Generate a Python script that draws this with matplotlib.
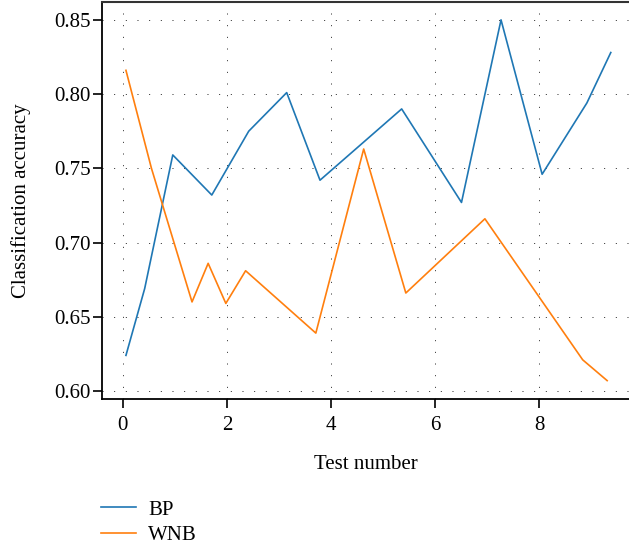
"""
Classification accuracy of BP and WNB over the test runs.
"""
import matplotlib.pyplot as plt
import numpy as np

# Values.
bp_x = [0.06, 0.42, 0.96, 1.71, 2.42, 3.15, 3.79, 5.36, 6.51, 7.27, 8.06, 8.92, 9.38]
bp_acc = [0.624, 0.669, 0.759, 0.732, 0.775, 0.801, 0.742, 0.790, 0.727, 0.850, 0.746, 0.794, 0.828]

wnb_x = [0.06, 0.55, 1.33, 1.64, 1.98, 2.36, 3.71, 4.63, 5.44, 6.96, 8.84, 9.31]
wnb_acc = [0.816, 0.750, 0.660, 0.686, 0.659, 0.681, 0.639, 0.763, 0.666, 0.716, 0.621, 0.607]

x_ticks = [0, 2, 4, 6, 8]
y_ticks = [0.60, 0.65, 0.70, 0.75, 0.80, 0.85]

plt.rcParams["font.family"] = ["Liberation Serif", "DejaVu Serif"]
plt.rcParams["font.size"] = 15

fig = plt.figure(figsize=(6.29, 5.5), dpi=100)
ax = fig.add_axes([0.1622, 0.2745, 0.8378, 0.7218])

ax.plot(bp_x, bp_acc, color="tab:blue", lw=1.2, label="BP")
ax.plot(wnb_x, wnb_acc, color="tab:orange", lw=1.2, label="WNB")

ax.set_xlim(-0.40, 9.73)
ax.set_ylim(0.5946, 0.862)
ax.set_xticks(x_ticks)
ax.set_yticks(y_ticks)
ax.yaxis.set_major_formatter(plt.FormatStrFormatter("%.2f"))

# Sparse dotted grid.
ax.grid(True, color="#222222", lw=0.7, linestyle=(0, (1, 11)))

ax.tick_params(direction="out", length=6.5, width=1.2, colors="black", labelsize=15)
ax.tick_params(axis="y", pad=1.5)
ax.tick_params(axis="x", pad=6)
ax.spines["right"].set_visible(False)
ax.spines["left"].set_linewidth(1.3)
ax.spines["bottom"].set_linewidth(1.3)
ax.spines["top"].set_linewidth(1.5)
ax.spines["top"].set_color("#333333")

ax.set_xlabel("Test number", fontsize=15, labelpad=14)
ax.set_ylabel("Classification accuracy", fontsize=15, labelpad=17)

fig.legend(loc="upper left", bbox_to_anchor=(0.13, 0.125), frameon=False,
           handlelength=1.7, handletextpad=0.6, labelspacing=0.3, fontsize=15)

plt.savefig("out.png", dpi=100)
